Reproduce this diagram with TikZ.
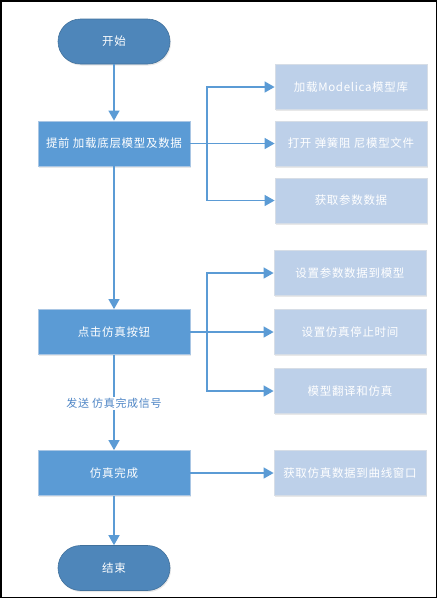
\documentclass[tikz,border=0pt]{standalone}
\usepackage{fontspec}
\setmainfont{Noto Sans CJK SC}[LetterSpace=6]
\usetikzlibrary{arrows.meta,shadows}
\definecolor{termfill}{HTML}{4E86BA}
\definecolor{termdraw}{HTML}{41719C}
\definecolor{mainfill}{HTML}{5B9BD5}
\definecolor{maindraw}{HTML}{A9C6E4}
\definecolor{subfill}{HTML}{BDD0E9}
\definecolor{subdraw}{HTML}{D6DDE6}
\definecolor{linecol}{HTML}{5B9BD5}
\definecolor{lblcol}{HTML}{4F86C6}
\tikzset{
  shad/.style={drop shadow={opacity=0.18,shadow xshift=1pt,shadow yshift=-1.5pt}},
  term/.style={shad,draw=termdraw,fill=termfill,line width=0.6pt,minimum width=112pt,minimum height=45pt,rounded corners=22.5pt,text=white,font=\fontsize{11.5}{13}\selectfont,inner sep=0pt},
  mainbox/.style={shad,draw=maindraw,fill=mainfill,line width=0.8pt,minimum width=152pt,minimum height=45pt,text=white,font=\fontsize{11.5}{13}\selectfont,inner sep=0pt},
  subbox/.style={shad,draw=subdraw,fill=subfill,line width=0.8pt,minimum width=152pt,minimum height=45pt,text=white,font=\fontsize{11.5}{13}\selectfont,inner sep=0pt},
  conn/.style={draw=linecol,line width=1.4pt},
  arr/.style={conn,-{Triangle[length=10pt,width=11pt]}},
  lbl/.style={fill=white,text=lblcol,font=\fontsize{11}{13}\selectfont,inner sep=1pt},
}
\begin{document}
\begin{tikzpicture}[x=1pt,y=-1pt]
\useasboundingbox (0,0) rectangle (437,598);
\draw[line width=1.5pt,black] (0.75,0.75) rectangle (436.25,597.25);

\node[term] (start) at (114,41.5) {开始};
\node[mainbox] (b1) at (114,143.5) {提前 加载底层模型及数据};
\node[mainbox] (b2) at (114,332) {点击仿真按钮};
\node[mainbox] (b3) at (114,473) {仿真完成};
\node[term] (end) at (114,568) {结束};

\node[subbox] (r1) at (351,87) {加载Modelica模型库};
\node[subbox] (r2) at (351,143.5) {打开 弹簧阻 尼模型文件};
\node[subbox] (r3) at (351,200.5) {获取参数数据};
\node[subbox] (r4) at (350,273) {设置参数数据到模型};
\node[subbox] (r5) at (350,332) {设置仿真停止时间};
\node[subbox] (r6) at (350,391) {模型翻译和仿真};
\node[subbox] (r7) at (350,473) {获取仿真数据到曲线窗口};

\node[lbl] (sig) at (114,403.5) {发送 仿真完成信号};

\coordinate (j1) at (207,143.5);
\coordinate (j2) at (207,332);

\draw[arr] (start) -- (b1);
\draw[arr] (b1) -- (b2);
\draw[conn] (b2) -- (sig);
\draw[arr] (sig) -- (b3);
\draw[arr] (b3) -- (end);

\draw[conn] (b1.east) -- (j1);
\draw[arr] (j1) |- (r1.west);
\draw[arr] (j1) -- (r2.west);
\draw[arr] (j1) |- (r3.west);

\draw[conn] (b2.east) -- (j2);
\draw[arr] (j2) |- (r4.west);
\draw[arr] (j2) -- (r5.west);
\draw[arr] (j2) |- (r6.west);

\draw[arr] (b3.east) -- (r7.west);
\end{tikzpicture}
\end{document}
